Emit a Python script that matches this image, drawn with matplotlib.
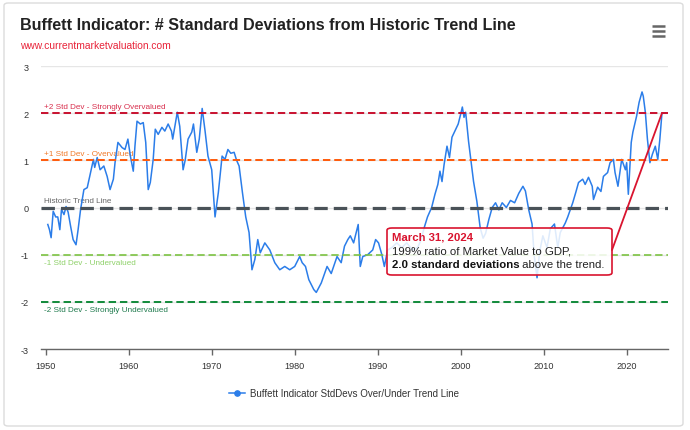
import matplotlib
matplotlib.use("Agg")
import matplotlib.pyplot as plt
from matplotlib.patches import FancyBboxPatch
from matplotlib.lines import Line2D

plt.rcParams['font.family'] = ['Liberation Sans', 'DejaVu Sans']

# ---------------- data ----------------
years = [1950.25, 1950.45, 1950.65, 1950.9, 1951.2, 1951.45, 1951.7, 1951.9, 1952.2, 1952.45,
         1952.7, 1953.0, 1953.3, 1953.65, 1953.9, 1954.2, 1954.6, 1955.0, 1955.35, 1955.75,
         1955.9, 1956.2, 1956.55, 1957.0, 1957.4, 1957.75, 1958.15, 1958.35, 1958.7, 1959.2,
         1959.55, 1959.9, 1960.2, 1960.55, 1960.75, 1961.0, 1961.4, 1961.75, 1962.05, 1962.35,
         1962.6, 1962.95, 1963.2, 1963.55, 1964.0, 1964.35, 1964.75, 1965.15, 1965.3, 1965.85,
         1966.15, 1966.55, 1966.8, 1967.15, 1967.6, 1967.8, 1968.2, 1968.5, 1968.85, 1969.2,
         1969.55, 1970.0, 1970.4, 1970.8, 1971.25, 1971.6, 1971.95, 1972.3, 1972.7, 1973.0,
         1973.3, 1973.7, 1974.1, 1974.5, 1974.85, 1975.2, 1975.55, 1975.85, 1976.4, 1977.0,
         1977.6, 1978.2, 1978.8, 1979.4, 1980.0, 1980.6, 1980.9, 1981.3, 1981.7, 1982.3,
         1982.6, 1983.2, 1983.9, 1984.4, 1985.1, 1985.6, 1986.0, 1986.4, 1986.7, 1987.1,
         1987.45, 1987.65, 1987.9, 1988.2, 1988.8, 1989.4, 1989.75, 1990.1, 1990.5, 1990.8,
         1991.2, 1991.7, 1992.3, 1992.9, 1993.5, 1994.2, 1994.8, 1995.2, 1995.6, 1996.0,
         1996.5, 1996.9, 1997.25, 1997.5, 1997.75, 1998.0, 1998.35, 1998.65, 1998.95, 1999.3,
         1999.7, 2000.0, 2000.2, 2000.4, 2000.6, 2000.95, 2001.25, 2001.55, 2001.95, 2002.35,
         2002.7, 2003.0, 2003.4, 2003.8, 2004.2, 2004.6, 2005.0, 2005.5, 2006.0, 2006.5,
         2007.0, 2007.5, 2007.8, 2008.2, 2008.6, 2008.85, 2009.2, 2009.5, 2009.9, 2010.4,
         2010.8, 2011.3, 2011.7, 2012.0, 2012.6, 2012.9, 2013.5, 2013.9, 2014.2, 2014.7,
         2015.0, 2015.4, 2015.85, 2016.0, 2016.5, 2016.9, 2017.2, 2017.7, 2018.0, 2018.4,
         2018.6, 2018.95, 2019.4, 2019.85, 2020.0, 2020.2, 2020.55, 2020.75, 2021.2, 2021.5,
         2021.85, 2022.0, 2022.25, 2022.5, 2022.8, 2023.1, 2023.45, 2023.75, 2024.0, 2024.25]
stdevs = [-0.36, -0.47, -0.64, -0.08, -0.2, -0.2, -0.47, -0.04, -0.15, 0.02,
          -0.1, -0.4, -0.68, -0.79, -0.47, -0.04, 0.38, 0.42, 0.7, 1.02,
          0.85, 1.06, 0.8, 0.88, 0.66, 0.38, 0.6, 0.95, 1.38, 1.27,
          1.23, 1.45, 1.09, 0.77, 1.3, 1.83, 1.77, 1.8, 1.38, 0.38,
          0.53, 1.02, 1.66, 1.55, 1.7, 1.62, 1.77, 1.62, 1.45, 2.02,
          1.72, 0.8, 1.0, 1.45, 1.6, 1.77, 1.17, 1.45, 2.1, 1.62,
          1.09, 0.8, -0.2, 0.32, 1.09, 1.02, 1.23, 1.15, 1.17, 1.0,
          0.88, 0.32, -0.2, -0.53, -1.32, -1.1, -0.68, -0.96, -0.75, -0.9,
          -1.17, -1.32, -1.25, -1.32, -1.25, -1.04, -1.17, -1.25, -1.53, -1.74,
          -1.8, -1.6, -1.25, -1.4, -1.04, -1.17, -0.82, -0.68, -0.6, -0.75,
          -0.5, -0.36, -1.25, -1.04, -1.0, -0.9, -0.68, -0.75, -1.0, -1.25,
          -0.9, -0.85, -0.75, -0.85, -0.75, -0.9, -0.85, -0.7, -0.43, -0.2,
          0.0, 0.28, 0.49, 0.77, 0.55, 0.91, 1.3, 1.06, 1.49, 1.62,
          1.77, 1.98, 2.13, 1.91, 2.02, 1.4, 0.98, 0.55, 0.13, -0.43,
          -0.65, -0.55, -0.25, 0.0, 0.1, -0.05, 0.1, 0.0, 0.15, 0.1,
          0.3, 0.45, 0.35, -0.05, -0.35, -1.0, -1.49, -0.95, -0.6, -0.85,
          -0.45, -0.35, -0.85, -0.53, -0.33, -0.2, 0.1, 0.34, 0.53, 0.6,
          0.49, 0.64, 0.45, 0.17, 0.43, 0.34, 0.66, 0.74, 0.95, 1.02,
          0.74, 0.45, 1.02, 0.8, 0.95, 0.28, 1.38, 1.6, 1.94, 2.23,
          2.45, 2.36, 2.02, 1.45, 0.95, 1.13, 1.3, 1.02, 1.45, 2.0]

ref_levels = [2, 1, 0, -1, -2]
ref_labels = ["+2 Std Dev - Strongly Overvalued", "+1 Std Dev - Overvalued",
              "Historic Trend Line", "-1 Std Dev - Undervalued",
              "-2 Std Dev - Strongly Undervalued"]
x_ticks = [1950, 1960, 1970, 1980, 1990, 2000, 2010, 2020]
y_ticks = [3, 2, 1, 0, -1, -2, -3]

title = "Buffett Indicator: # Standard Deviations from Historic Trend Line"
subtitle = "www.currentmarketvaluation.com"
series_name = "Buffett Indicator StdDevs Over/Under Trend Line"
ann_date = "March 31, 2024"
ann_line2 = "199% ratio of Market Value to GDP,"
ann_bold = "2.0 standard deviations"
ann_rest = " above the trend."

# ---------------- styling ----------------
W, H = 690, 431
fig = plt.figure(figsize=(W / 100, H / 100), dpi=100)
fig.patch.set_facecolor("white")

card = FancyBboxPatch((4 / W, 4 / H), 679 / W, 423 / H, transform=fig.transFigure,
                      boxstyle="round,pad=0,rounding_size=0.006", facecolor="white",
                      edgecolor="#dcdcdc", linewidth=1.0, zorder=-10)
fig.patches.append(card)

ax_l, ax_r, ax_t, ax_b = 41, 668, 67, 350
ax = fig.add_axes([ax_l / W, 1 - ax_b / H, (ax_r - ax_l) / W, (ax_b - ax_t) / H])
ax.set_facecolor("none")
ax.set_zorder(1)

blue = "#2b7de9"
ax.plot(years, stdevs, color=blue, lw=1.1, zorder=2)

ax.set_xlim(1949.43, 2024.98)
ax.set_ylim(-3, 3)

for yv in y_ticks:
    ax.axhline(yv, color="#e6e6e6", lw=1.0, zorder=0.5)

ref_colors = ["#c8102e", "#ff5a0a", "#4a5258", "#7cc242", "#118a3a"]
lab_colors = ["#d9304e", "#f07a2a", "#666666", "#8fd16a", "#1f7a4d"]
ref_lw = [1.4, 1.4, 2.3, 1.2, 1.4]
ref_dash = [(0, (3.8, 2.0)), (0, (3.8, 2.0)), (0, (4.2, 1.9)), (0, (4.4, 2.3)), (0, (3.8, 2.0))]
for lv, lab, c, lc, lw, ds in zip(ref_levels, ref_labels, ref_colors, lab_colors, ref_lw, ref_dash):
    ax.axhline(lv, color=c, lw=lw, linestyle=ds, zorder=3)
    if lv >= 0:
        ax.annotate(lab, xy=(0, lv), xycoords=("axes fraction", "data"),
                    xytext=(2, 2.5), textcoords="offset points", ha="left", va="bottom",
                    fontsize=5.9, color=lc, zorder=1.5)
    else:
        ax.annotate(lab, xy=(0, lv), xycoords=("axes fraction", "data"),
                    xytext=(2, -3), textcoords="offset points", ha="left", va="top",
                    fontsize=5.9, color=lc, zorder=1.5)

for s in ["top", "right", "left"]:
    ax.spines[s].set_visible(False)
ax.spines["bottom"].set_color("#666666")
ax.spines["bottom"].set_linewidth(1.0)
ax.spines["bottom"].set_zorder(4)

ax.set_xticks(x_ticks)
ax.set_xticklabels([str(v) for v in x_ticks])
ax.set_yticks(y_ticks)
ax.set_yticklabels([str(v) for v in y_ticks])
ax.tick_params(axis="y", length=0, pad=9, labelsize=6.6, labelcolor="#333333")
ax.tick_params(axis="x", length=4.5, width=1.0, color="#666666", pad=4,
               labelsize=6.6, labelcolor="#333333")

# ---------------- annotation ----------------
red = "#d9142f"
bx0 = (387 - ax_l) / (ax_r - ax_l)
bx1 = (612 - ax_l) / (ax_r - ax_l)
by0 = (ax_b - 276) / (ax_b - ax_t)
by1 = (ax_b - 229) / (ax_b - ax_t)
box = FancyBboxPatch((bx0, by0), bx1 - bx0, by1 - by0, transform=ax.transAxes,
                     boxstyle="round,pad=0,rounding_size=0.008", facecolor=(1, 1, 1, 0.85),
                     edgecolor=red, linewidth=1.2, zorder=5)
ax.add_patch(box)
ax.annotate("", xy=(years[-1], stdevs[-1]), xycoords="data",
            xytext=(bx1, (ax_b - 251) / (ax_b - ax_t)), textcoords="axes fraction",
            arrowprops=dict(arrowstyle="-", color=red, lw=1.3, shrinkA=0, shrinkB=0),
            zorder=5)
tx = (391.5 - ax_l) / (ax_r - ax_l)
ax.text(tx, (ax_b - 237.5) / (ax_b - ax_t), ann_date, transform=ax.transAxes,
        fontsize=8.2, color=red, fontweight="bold", va="center", ha="left", zorder=6)
ax.text(tx, (ax_b - 252) / (ax_b - ax_t), ann_line2, transform=ax.transAxes,
        fontsize=8.2, color="#222222", va="center", ha="left", zorder=6)
t3 = ax.text(tx, (ax_b - 265.5) / (ax_b - ax_t), ann_bold, transform=ax.transAxes,
             fontsize=8.2, color="#111111", fontweight="bold", va="center", ha="left", zorder=6)
ax.annotate(ann_rest, xy=(1, 0), xycoords=t3, ha="left", va="bottom",
            fontsize=8.2, color="#222222", zorder=6)

# ---------------- titles ----------------
fig.text(20 / W, 1 - 26 / H, title, fontsize=11.6, fontweight="bold", color="#222222",
         ha="left", va="center")
fig.text(20 / W, 1 - 46 / H, subtitle, fontsize=7.4, color="#e8243a", ha="left", va="center")

# hamburger menu icon
for yy in [27, 32, 37]:
    fig.add_artist(Line2D([652 / W, 665 / W], [1 - yy / H, 1 - yy / H], color="#666666",
                          lw=1.8, solid_capstyle="butt"))

# ---------------- legend ----------------
handle = Line2D([], [], color=blue, lw=1.1, marker="o", markersize=3.8)
leg = fig.legend([handle], [series_name], loc="center", bbox_to_anchor=(0.4986, 1 - 394 / H),
                 frameon=False, fontsize=7.0, handlelength=1.6, handletextpad=0.5)
for t in leg.get_texts():
    t.set_color("#333333")

fig.savefig("out.png", dpi=100, facecolor=fig.get_facecolor())
